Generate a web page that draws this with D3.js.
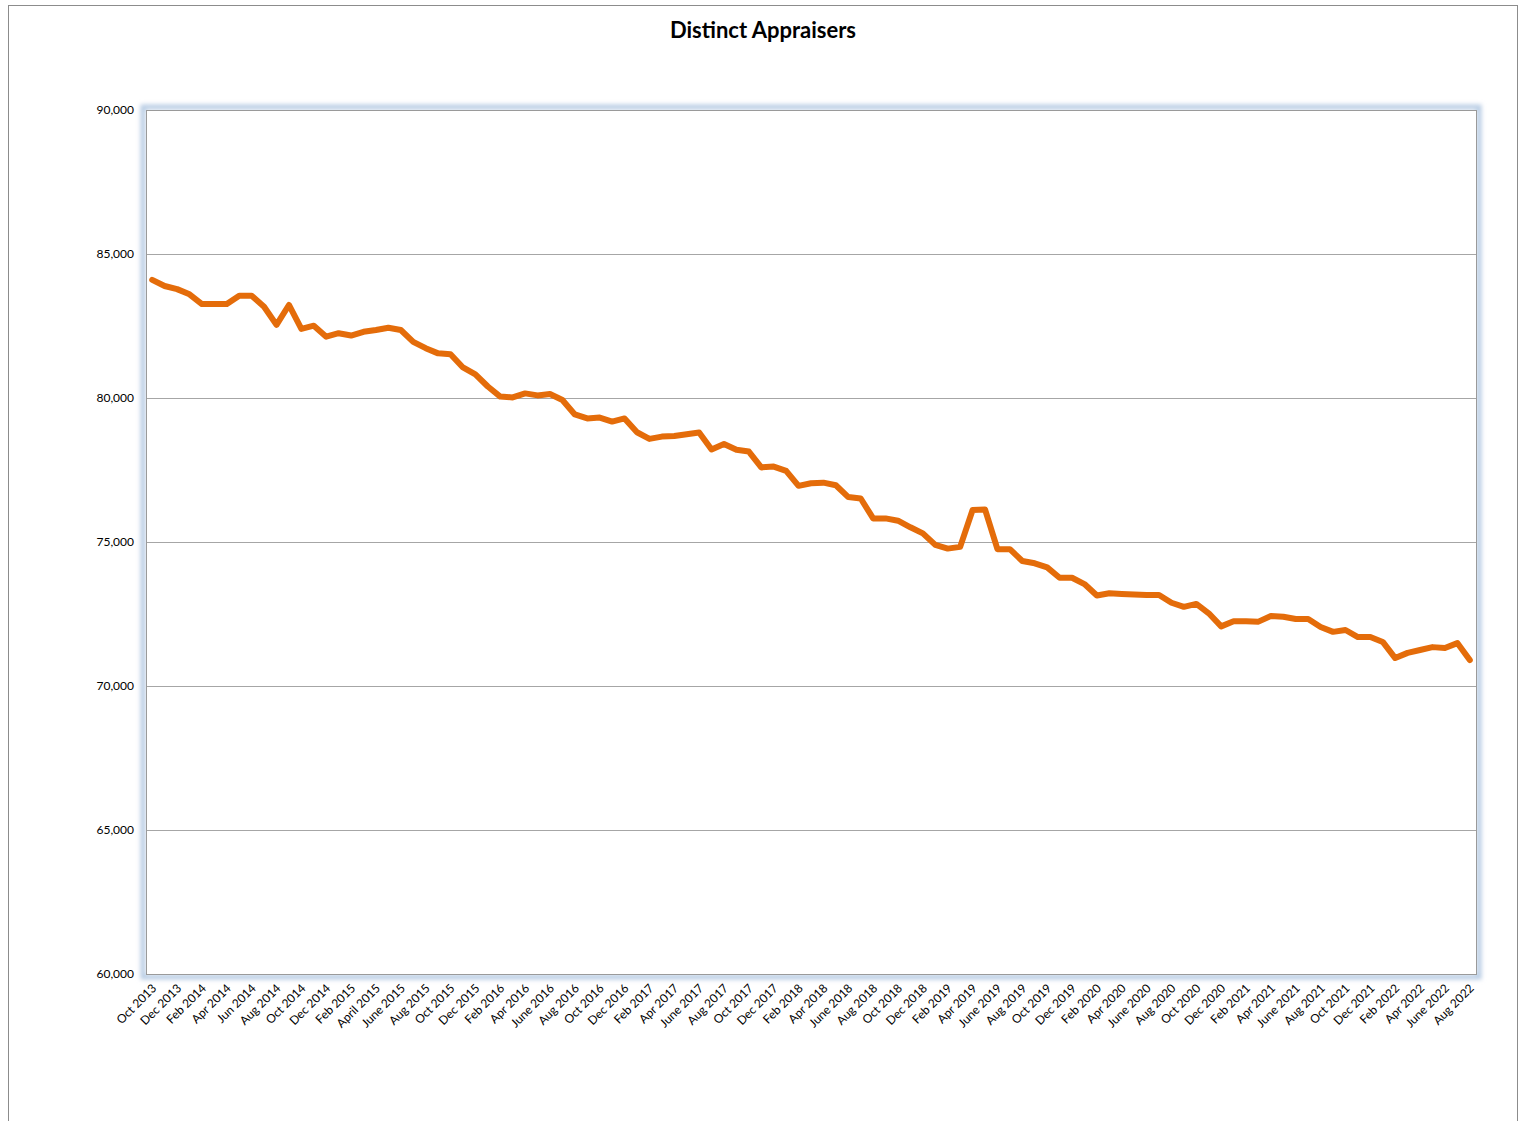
<!DOCTYPE html>
<html>
<head>
<meta charset="utf-8">
<script src="https://cdn.jsdelivr.net/npm/d3@7"></script>
<style>
  body { margin: 0; background: #fff; }
  svg { display: block; font-family: Lato, "Open Sans", sans-serif; }
</style>
</head>
<body>
<svg id="chart"></svg>
<script>
// monthly points, Oct 2013 .. Aug 2022
const months = [
  "Oct 2013", "Nov 2013", "Dec 2013",
  "Jan 2014", "Feb 2014", "Mar 2014", "Apr 2014", "May 2014", "Jun 2014", "Jul 2014", "Aug 2014", "Sep 2014", "Oct 2014", "Nov 2014", "Dec 2014",
  "Jan 2015", "Feb 2015", "Mar 2015", "April 2015", "May 2015", "June 2015", "Jul 2015", "Aug 2015", "Sep 2015", "Oct 2015", "Nov 2015", "Dec 2015",
  "Jan 2016", "Feb 2016", "Mar 2016", "Apr 2016", "May 2016", "June 2016", "Jul 2016", "Aug 2016", "Sep 2016", "Oct 2016", "Nov 2016", "Dec 2016",
  "Jan 2017", "Feb 2017", "Mar 2017", "Apr 2017", "May 2017", "June 2017", "Jul 2017", "Aug 2017", "Sep 2017", "Oct 2017", "Nov 2017", "Dec 2017",
  "Jan 2018", "Feb 2018", "Mar 2018", "Apr 2018", "May 2018", "June 2018", "Jul 2018", "Aug 2018", "Sep 2018", "Oct 2018", "Nov 2018", "Dec 2018",
  "Jan 2019", "Feb 2019", "Mar 2019", "Apr 2019", "May 2019", "June 2019", "Jul 2019", "Aug 2019", "Sep 2019", "Oct 2019", "Nov 2019", "Dec 2019",
  "Jan 2020", "Feb 2020", "Mar 2020", "Apr 2020", "May 2020", "June 2020", "Jul 2020", "Aug 2020", "Sep 2020", "Oct 2020", "Nov 2020", "Dec 2020",
  "Jan 2021", "Feb 2021", "Mar 2021", "Apr 2021", "May 2021", "June 2021", "Jul 2021", "Aug 2021", "Sep 2021", "Oct 2021", "Nov 2021", "Dec 2021",
  "Jan 2022", "Feb 2022", "Mar 2022", "Apr 2022", "May 2022", "June 2022", "Jul 2022", "Aug 2022"
];

const appraisers = [
  84100, 83890, 83780,
  83600, 83260, 83260, 83260, 83550, 83550, 83170, 82540, 83230, 82400, 82510, 82130,
  82250, 82170, 82300, 82360, 82440, 82360, 81950, 81730, 81550, 81520, 81060, 80820,
  80400, 80050, 80020, 80160, 80090, 80140, 79930, 79430, 79290, 79320, 79180, 79290,
  78810, 78580, 78660, 78680, 78740, 78800, 78210, 78400, 78200, 78140, 77590, 77620,
  77470, 76950, 77040, 77060, 76970, 76560, 76510, 75820, 75820, 75740, 75510, 75300,
  74900, 74770, 74830, 76110, 76130, 74750, 74750, 74340, 74260, 74120, 73760, 73760,
  73540, 73140, 73220, 73195, 73175, 73160, 73160, 72890, 72750, 72850, 72525, 72070,
  72250, 72250, 72235, 72430, 72405, 72325, 72325, 72050, 71880, 71945, 71700, 71700,
  71530, 70970, 71150, 71250, 71350, 71320, 71490, 70900
];

const yTicks = [60000, 65000, 70000, 75000, 80000, 85000, 90000];
const title = "Distinct Appraisers";

const W = 1522, H = 1121;
const plot = {left: 146, right: 1476, top: 110, bottom: 974};

const svg = d3.select("#chart").attr("width", W).attr("height", H);

// glow behind the plot area
const defs = svg.append("defs");
const blur = defs.append("filter").attr("id", "glow")
  .attr("x", "-5%").attr("y", "-5%").attr("width", "110%").attr("height", "110%");
blur.append("feGaussianBlur").attr("stdDeviation", 2.2);

// outer chart frame
svg.append("rect")
  .attr("x", 8.5).attr("y", 5.5)
  .attr("width", 1509).attr("height", 1130)
  .attr("fill", "none").attr("stroke", "#8c8c8c").attr("stroke-width", 1);

svg.append("text")
  .attr("x", 763).attr("y", 38)
  .attr("text-anchor", "middle")
  .attr("font-size", 22).attr("font-weight", "bold")
  .text(title);

const x = d3.scaleBand().domain(months).range([plot.left, plot.right]);
const y = d3.scaleLinear().domain([60000, 90000]).range([plot.bottom, plot.top]);

svg.append("rect")
  .attr("x", plot.left - 3).attr("y", plot.top - 3)
  .attr("width", plot.right - plot.left + 6).attr("height", plot.bottom - plot.top + 6)
  .attr("fill", "none").attr("stroke", "#b8cce4").attr("stroke-width", 5)
  .attr("filter", "url(#glow)");

svg.append("rect")
  .attr("x", plot.left).attr("y", plot.top)
  .attr("width", plot.right - plot.left).attr("height", plot.bottom - plot.top)
  .attr("fill", "#fff");

// gridlines
svg.append("g")
  .selectAll("line")
  .data(yTicks.filter(d => d > 60000 && d < 90000))
  .join("line")
  .attr("x1", plot.left).attr("x2", plot.right)
  .attr("y1", d => Math.round(y(d)) + 0.5).attr("y2", d => Math.round(y(d)) + 0.5)
  .attr("stroke", "#a6a6a6").attr("stroke-width", 1);

svg.append("rect")
  .attr("x", plot.left + 0.5).attr("y", plot.top + 0.5)
  .attr("width", plot.right - plot.left).attr("height", plot.bottom - plot.top)
  .attr("fill", "none").attr("stroke", "#9a9a9a").attr("stroke-width", 1);

// y axis labels
const yAxis = d3.axisLeft(y).tickValues(yTicks).tickSize(0).tickPadding(12)
  .tickFormat(d3.format(","));
svg.append("g")
  .attr("transform", `translate(${plot.left},0)`)
  .call(yAxis)
  .call(g => g.select(".domain").remove())
  .selectAll("text")
  .attr("font-family", "Lato, 'Open Sans', sans-serif")
  .attr("font-size", 12).attr("fill", "#000");

// x axis labels, every other month
const xAxis = d3.axisBottom(x)
  .tickValues(months.filter((m, i) => i % 2 === 0))
  .tickSize(0).tickPadding(0);
svg.append("g")
  .attr("transform", `translate(0,${plot.bottom})`)
  .call(xAxis)
  .call(g => g.select(".domain").remove())
  .selectAll("text")
  .attr("font-family", "Lato, 'Open Sans', sans-serif")
  .attr("font-size", 12).attr("fill", "#000")
  .attr("text-anchor", "end")
  .attr("dy", 0)
  .attr("transform", "translate(5,15) rotate(-45)");

// the series
const line = d3.line()
  .x((d, i) => x(months[i]) + x.bandwidth() / 2)
  .y(d => y(d));

svg.append("path")
  .datum(appraisers)
  .attr("d", line)
  .attr("fill", "none")
  .attr("stroke", "#e46c0a")
  .attr("stroke-width", 6)
  .attr("stroke-linejoin", "round")
  .attr("stroke-linecap", "round");
</script>
</body>
</html>
